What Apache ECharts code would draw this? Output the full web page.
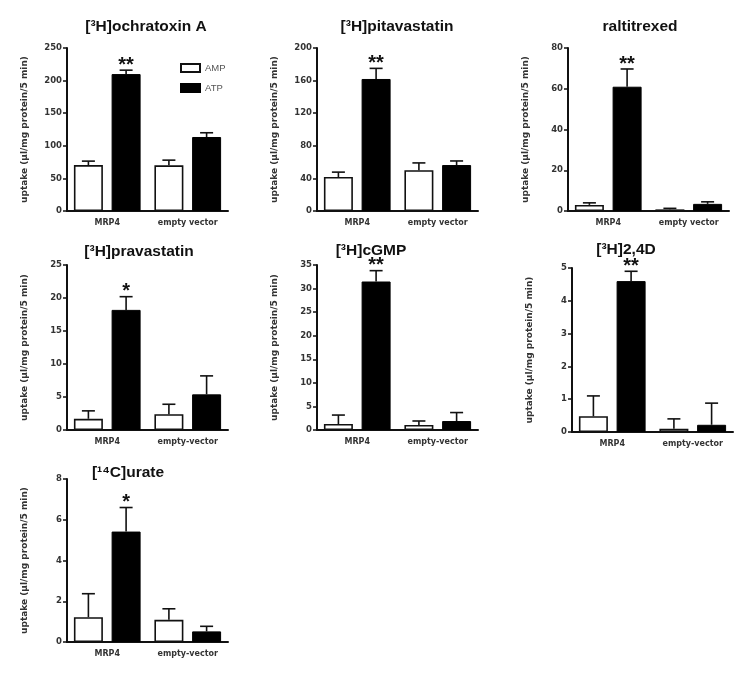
<!DOCTYPE html>
<html><head><meta charset="utf-8">
<script src="https://cdn.jsdelivr.net/npm/echarts@6/dist/echarts.min.js"></script>
<style>html,body{margin:0;padding:0;background:#fff}#c{width:750px;height:678px}</style>
</head><body><div id="c"></div>
<script>
const titles = ['[³H]ochratoxin A','[³H]pitavastatin','raltitrexed','[³H]pravastatin','[³H]cGMP','[³H]2,4D','[¹⁴C]urate'];
const categoriesRow1 = ['MRP4','empty vector'];
const categoriesOther = ['MRP4','empty-vector'];
const yMax = [250,200,80,25,35,5,8];
const yInterval = [50,40,20,5,5,1,2];
const ampValues = [[70.5,70],[41.7,50],[3,0.8],[1.7,2.4],[1.27,1.06],[0.48,0.1],[1.22,1.09]];
const ampSem    = [[6,8],[6,9],[1,0.5],[1.2,1.5],[1.9,0.85],[0.62,0.3],[1.15,0.54]];
const atpValues = [[210,113.5],[162,56.4],[61,3.5],[18.2,5.4],[31.5,1.9],[4.6,0.22],[5.42,0.52]];
const atpSem    = [[6,6.5],[13,5],[8.7,1],[2,2.8],[2.3,1.8],[0.3,0.66],[1.18,0.25]];
const stars = ['**','**','**','*','**','**','*'];
const yName = 'uptake (µl/mg protein/5 min)';

// layout
const grids = [
  {left:67,top:48,height:163},{left:317,top:48,height:163},{left:568,top:48,height:163},
  {left:67,top:265,height:165},{left:317,top:265,height:165},{left:572,top:268,height:164},
  {left:67,top:479,height:163}
];
const gw = 161;
const titleX = [141,392,635,134,366,621,123];
const titleY = [24,24,24,249,248,247,470];
const FONT = 'Liberation Sans, Arial, sans-serif';

const chart = echarts.init(document.getElementById('c'));
const option = {
  backgroundColor:'#fff',
  animation:false,
  title: titles.map((t,i)=>({text:t,left:titleX[i],top:titleY[i]-10,textAlign:'center',
    textStyle:{fontSize:15.5,fontWeight:'bold',fontFamily:FONT,color:'#111'}})),
  legend:{left:175,top:58,orient:'vertical',itemWidth:19,itemHeight:8,itemGap:10,
    data:['AMP','ATP'],textStyle:{fontSize:9.5,color:'#555',fontFamily:FONT}, icon:'rect'},
  grid: grids.map(g=>({left:g.left,top:g.top,width:gw,height:g.height})),
  xAxis: grids.map((g,i)=>({type:'category',gridIndex:i,data:i<3?categoriesRow1:categoriesOther,
    axisLine:{lineStyle:{color:'#111',width:2}},axisTick:{show:false},
    axisLabel:{interval:0,hideOverlap:false,fontSize:8,fontWeight:'bold',color:'#333',fontFamily:'DejaVu Sans',margin:8}})),
  yAxis: grids.map((g,i)=>({type:'value',gridIndex:i,min:0,max:yMax[i],interval:yInterval[i],
    name:yName,nameLocation:'middle',nameGap:38,nameRotate:90,
    nameTextStyle:{fontSize:9,fontWeight:'bold',color:'#333',fontFamily:'DejaVu Sans'},
    axisLine:{show:true,lineStyle:{color:'#111',width:2}},
    axisTick:{show:true,length:4,lineStyle:{color:'#111',width:1.5}},
    axisLabel:{fontSize:8.5,fontWeight:'bold',color:'#333',fontFamily:'DejaVu Sans',margin:5},
    splitLine:{show:false}})),
  series:[]
};

function errSeries(p, vals, sems, offset, star){
  return {type:'custom',xAxisIndex:p,yAxisIndex:p,z:5,silent:true,
    data: vals.map((v,i)=>[i,v,v+sems[i]]),
    renderItem:(params,api)=>{
      const c = api.coord([api.value(0),api.value(1)]);
      const t = api.coord([api.value(0),api.value(2)]);
      const x = c[0]+offset;
      const children = [
        {type:'line',shape:{x1:x,y1:c[1],x2:x,y2:t[1]},style:{stroke:'#111',lineWidth:1.6}},
        {type:'line',shape:{x1:x-6.5,y1:t[1],x2:x+6.5,y2:t[1]},style:{stroke:'#111',lineWidth:1.6}}
      ];
      if(star && api.value(0)===0){
        children.push({type:'text',style:{text:star,x:x,y:t[1]-5,align:'center',verticalAlign:'middle',
          fontSize:20,fontWeight:'bold',fill:'#111',fontFamily:FONT}});
      }
      return {type:'group',children};
    }};
}

for(let p=0;p<7;p++){
  option.series.push({name:'AMP',type:'bar',xAxisIndex:p,yAxisIndex:p,data:ampValues[p],barWidth:29,barGap:'30%',
    itemStyle:{color:'#fff',borderColor:'#111',borderWidth:1.6}});
  option.series.push({name:'ATP',type:'bar',xAxisIndex:p,yAxisIndex:p,data:atpValues[p],barWidth:29,barGap:'30%',
    itemStyle:{color:'#000',borderColor:'#000',borderWidth:1}});
  option.series.push(errSeries(p,ampValues[p],ampSem[p],-18.85,null));
  option.series.push(errSeries(p,atpValues[p],atpSem[p],18.85,stars[p]));
}
chart.setOption(option);
</script></body></html>
